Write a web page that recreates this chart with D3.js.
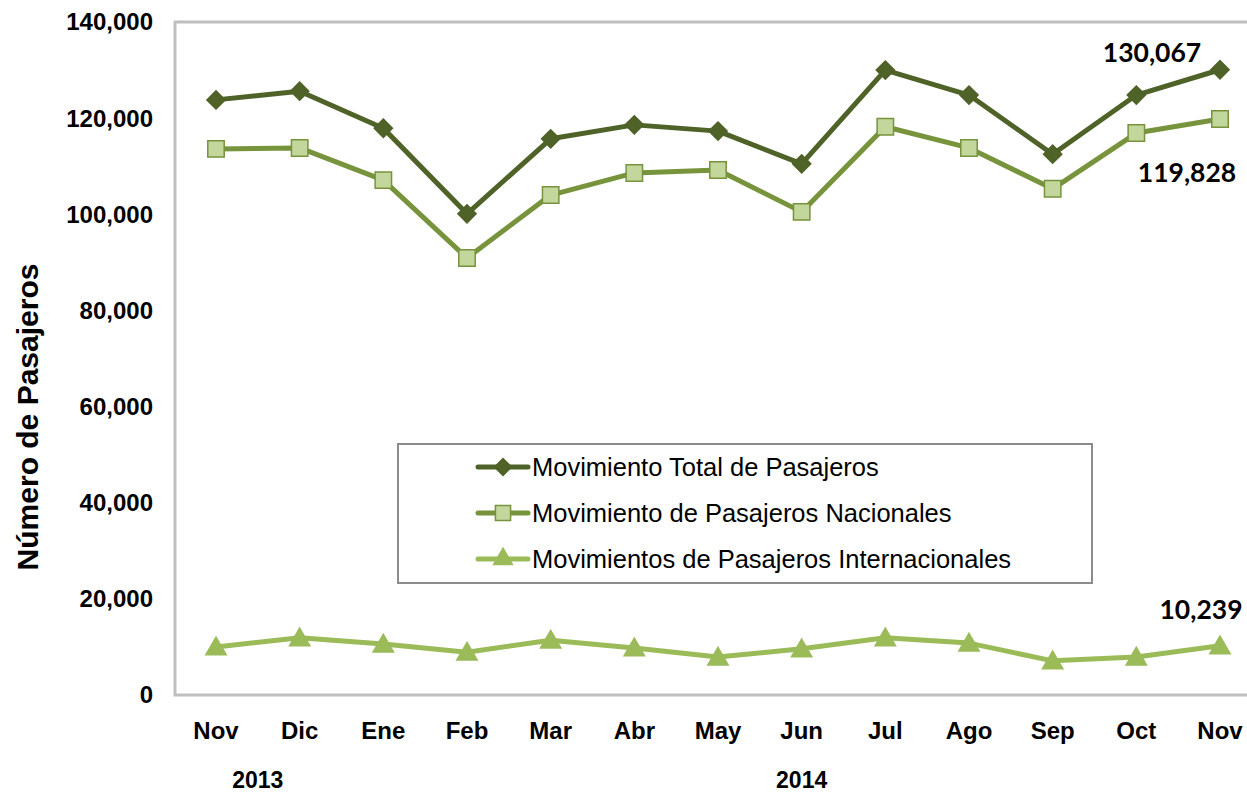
<!DOCTYPE html>
<meta charset="utf-8">
<style>
body { margin: 0; background: #fff; }
svg text { font-family: "Liberation Sans", Arial, sans-serif; }
.tick-lbl { font-weight: bold; font-size: 24px; fill: #000; }
.data-lbl { font-family: Lato, "Liberation Sans", sans-serif !important; font-weight: bold; font-size: 26.5px; fill: #000; }
</style>
<body>
<script src="https://cdn.jsdelivr.net/npm/d3@7"></script>
<script>
// data
var months = ["Nov","Dic","Ene","Feb","Mar","Abr","May","Jun","Jul","Ago","Sep","Oct","Nov"];
var years = [{label: "2013", at: 0.5}, {label: "2014", at: 7.0}];
var total = [123800,125600,117900,100100,115700,118600,117300,110500,130000,124800,112500,124800,130067];
var nacional = [113600,113800,107100,90900,104000,108600,109200,100500,118200,113800,105300,116900,119828];
var internacional = [10000,11900,10600,8900,11400,9800,7900,9600,11900,10800,7100,7900,10239];
var yTicks = [0,20000,40000,60000,80000,100000,120000,140000];

var width = 1247, height = 793;
var plotLeft = 175, plotTop = 22, plotBottom = 695;

var svg = d3.select("body").append("svg")
    .attr("width", width)
    .attr("height", height);

var x = d3.scalePoint()
    .domain(d3.range(months.length))
    .range([216, 1220]);
var step = x.step();

var y = d3.scaleLinear()
    .domain([0, 140000])
    .range([plotBottom, plotTop]);

var fmt = d3.format(",");

// plot border (left, top, bottom)
svg.append("path")
    .attr("d", "M" + (width + 20) + "," + plotTop + "H" + plotLeft + "V" + plotBottom + "H" + (width + 20))
    .attr("fill", "none")
    .attr("stroke", "#bfbfbf")
    .attr("stroke-width", 3);

// y tick labels
svg.selectAll(".ylab")
    .data(yTicks)
  .enter().append("text")
    .attr("class", "tick-lbl")
    .attr("x", 153)
    .attr("y", function(d) { return y(d); })
    .attr("dy", "0.35em")
    .attr("text-anchor", "end")
    .text(function(d) { return fmt(d); });

// month labels
svg.selectAll(".xlab")
    .data(months)
  .enter().append("text")
    .attr("class", "tick-lbl")
    .attr("x", function(d, i) { return x(i); })
    .attr("y", 739)
    .attr("text-anchor", "middle")
    .text(function(d) { return d; });

svg.selectAll(".year")
    .data(years)
  .enter().append("text")
    .attr("class", "tick-lbl")
    .attr("x", function(d) { return x(0) + d.at * step; })
    .attr("y", 788)
    .attr("text-anchor", "middle")
    .style("font-size", "23px")
    .text(function(d) { return d.label; });

// y title
svg.append("text")
    .attr("transform", "translate(38," + 417 + ") rotate(-90)")
    .attr("text-anchor", "middle")
    .style("font-weight", "bold")
    .style("font-size", "30px")
    .text("Número de Pasajeros");

var series = [
  {name: "Movimiento Total de Pasajeros", values: total, line: "#4f6228", fill: "#4f6228", stroke: "#4f6228", shape: d3.symbolSquare, rot: 45, size: 165},
  {name: "Movimiento de Pasajeros Nacionales", values: nacional, line: "#77933c", fill: "#c3d69b", stroke: "#77933c", shape: d3.symbolSquare, rot: 0, size: 270},
  {name: "Movimientos de Pasajeros Internacionales", values: internacional, line: "#9bbb59", fill: "#9bbb59", stroke: "#9bbb59", shape: d3.symbolTriangle, rot: 0, size: 180}
];

var line = d3.line()
    .x(function(d, i) { return x(i); })
    .y(function(d) { return y(d); });

series.forEach(function(s) {
  svg.append("path")
      .datum(s.values)
      .attr("d", line)
      .attr("fill", "none")
      .attr("stroke", s.line)
      .attr("stroke-width", 5)
      .attr("stroke-linejoin", "round");

  svg.selectAll(null)
      .data(s.values)
    .enter().append("path")
      .attr("transform", function(d, i) {
        var dy = s.shape === d3.symbolTriangle ? 2 : 0;
        return "translate(" + x(i) + "," + (y(d) + dy) + ") rotate(" + s.rot + ")";
      })
      .attr("d", d3.symbol().type(s.shape).size(s.size))
      .attr("fill", s.fill)
      .attr("stroke", s.stroke)
      .attr("stroke-width", 1.5);
});

// end labels
var last = months.length - 1;
var endLabels = [
  {v: total[last], dx: -68, dy: -17},
  {v: nacional[last], dx: -33, dy: 54},
  {v: internacional[last], dx: -19, dy: -36}
];
svg.selectAll(".data-lbl")
    .data(endLabels)
  .enter().append("text")
    .attr("class", "data-lbl")
    .attr("x", function(d) { return x(last) + d.dx; })
    .attr("y", function(d) { return y(d.v) + d.dy; })
    .attr("dy", "0.35em")
    .attr("text-anchor", "middle")
    .text(function(d) { return fmt(d.v); });

// legend
var lg = svg.append("g").attr("transform", "translate(398,444)");
lg.append("rect")
    .attr("width", 694)
    .attr("height", 139)
    .attr("fill", "#fff")
    .attr("stroke", "#8c8c8c")
    .attr("stroke-width", 2);

var item = lg.selectAll(".item")
    .data(series)
  .enter().append("g")
    .attr("transform", function(d, i) { return "translate(0," + (23 + i * 46) + ")"; });

item.append("line")
    .attr("x1", 80).attr("x2", 130)
    .attr("stroke", function(d) { return d.line; })
    .attr("stroke-width", 5)
    .attr("stroke-linecap", "round");

item.append("path")
    .attr("transform", function(d) { return "translate(105,0) rotate(" + d.rot + ")"; })
    .attr("d", function(d) { return d3.symbol().type(d.shape).size(d.size * 0.85)(); })
    .attr("fill", function(d) { return d.fill; })
    .attr("stroke", function(d) { return d.stroke; })
    .attr("stroke-width", 1.5);

item.append("text")
    .attr("x", 134)
    .attr("dy", "0.35em")
    .style("font-size", "25.5px")
    .text(function(d) { return d.name; });
</script>
</body>
